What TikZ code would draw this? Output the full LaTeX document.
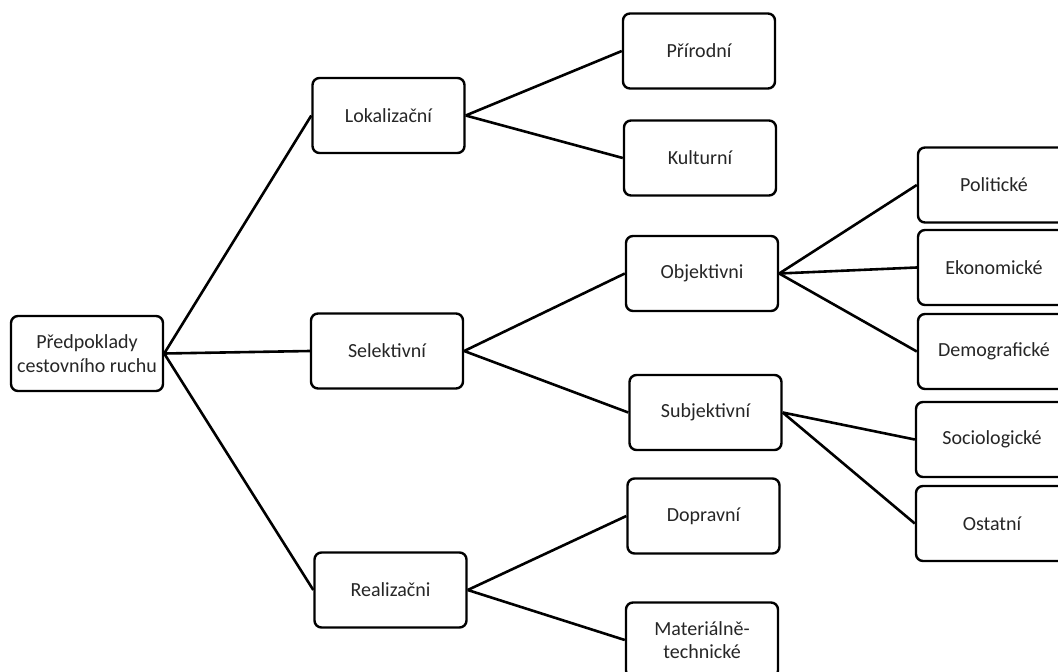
\documentclass[tikz,border=0pt]{standalone}
\usepackage{fontspec}
\setmainfont{Carlito}
\begin{document}
\begin{tikzpicture}[x=1pt,y=-1pt,
  box/.style={draw=black,line width=2.4pt,rounded corners=7pt,fill=white,
    minimum width=152pt,minimum height=75pt,inner sep=0pt,align=center,
    font=\fontsize{20}{23.5}\selectfont,text=black!85},
  conn/.style={line width=2.6pt,black}]
\path[use as bounding box] (0,0) rectangle (1058,672);
\clip (0,0) rectangle (1058,672);
% nodes
\node[box] (root) at (87,353.5) {Předpoklady\\cestovního ruchu};
\node[box] (lok) at (388.5,115.5) {Lokalizační};
\node[box] (sel) at (387,351) {Selektivní};
\node[box] (real) at (390.5,590) {Realizačni};
\node[box] (prir) at (699,51) {Přírodní};
\node[box] (kult) at (700,158) {Kulturní};
\node[box] (obj) at (702,273.5) {Objektivni};
\node[box] (subj) at (705.5,412.5) {Subjektivní};
\node[box] (dopr) at (703.5,516) {Dopravní};
\node[box] (mat) at (702,640) {Materiálně-\\technické};
\node[box] (pol) at (994,185) {Politické};
\node[box] (eko) at (994,267.5) {Ekonomické};
\node[box] (dem) at (994,351.5) {Demografické};
\node[box] (soc) at (992,439.5) {Sociologické};
\node[box] (ost) at (992,523.5) {Ostatní};
% connectors
\draw[conn] (root.east) -- (lok.west);
\draw[conn] (root.east) -- (sel.west);
\draw[conn] (root.east) -- (real.west);
\draw[conn] (lok.east) -- (prir.west);
\draw[conn] (lok.east) -- (kult.west);
\draw[conn] (sel.east) -- (obj.west);
\draw[conn] (sel.east) -- (subj.west);
\draw[conn] (real.east) -- (dopr.west);
\draw[conn] (real.east) -- (mat.west);
\draw[conn] (obj.east) -- (pol.west);
\draw[conn] (obj.east) -- (eko.west);
\draw[conn] (obj.east) -- (dem.west);
\draw[conn] (subj.east) -- (soc.west);
\draw[conn] (subj.east) -- (ost.west);
\end{tikzpicture}
\end{document}
